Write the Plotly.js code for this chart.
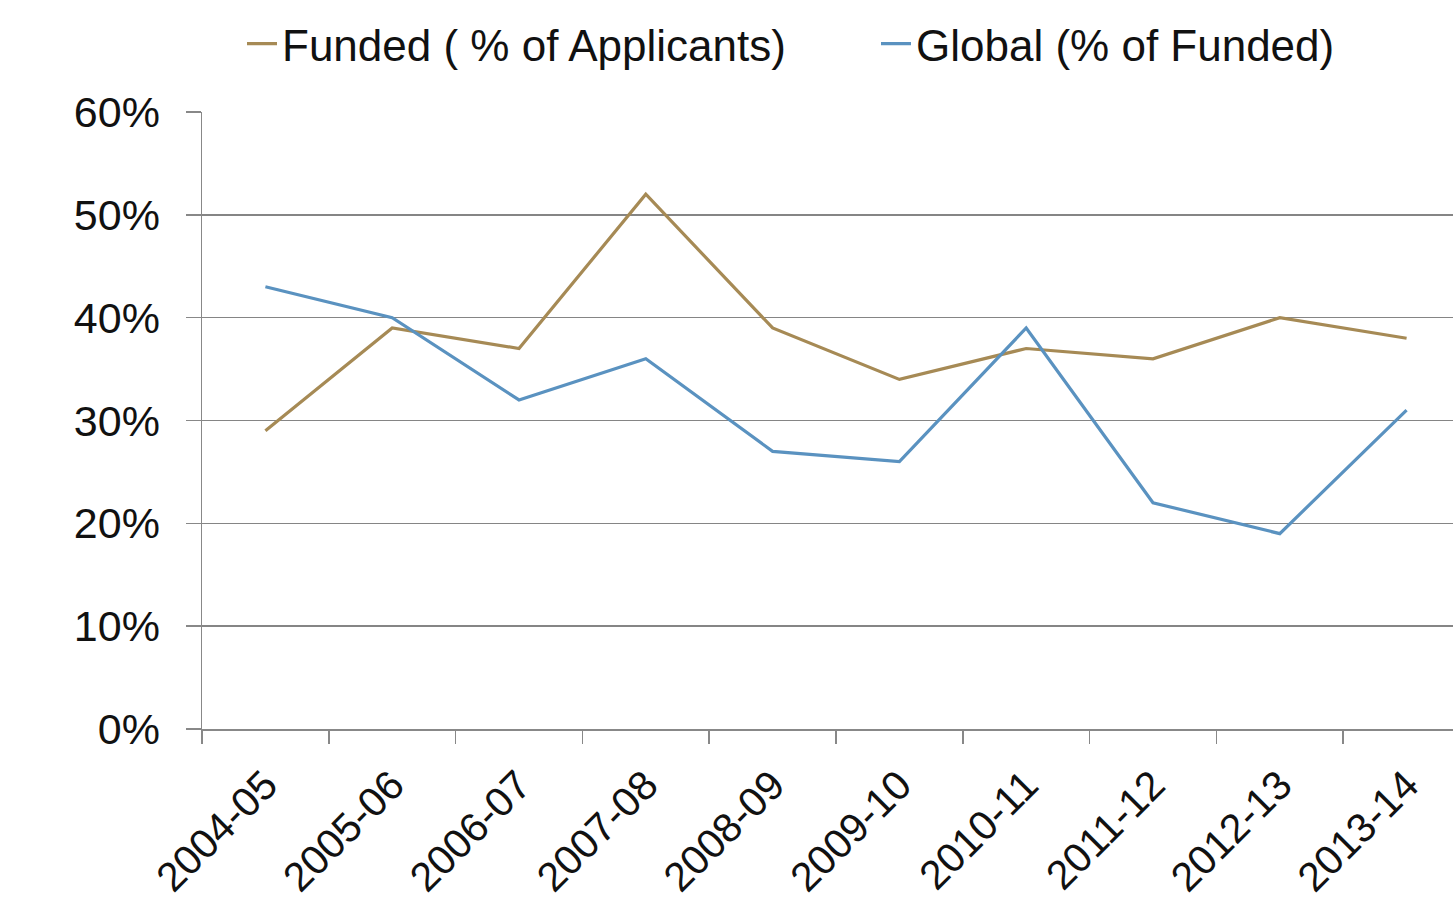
<!DOCTYPE html>
<html>
<head>
<meta charset="utf-8">
<script src="https://cdn.plot.ly/plotly-3.0.1.min.js"></script>
<style>html,body{margin:0;padding:0;background:#fff;overflow:hidden}#chart{width:1453px;height:901px}</style>
</head>
<body>
<div id="chart"></div>
<script>
const categories = ["2004-05","2005-06","2006-07","2007-08","2008-09","2009-10","2010-11","2011-12","2012-13","2013-14"];
const fundedPct = [29, 39, 37, 52, 39, 34, 37, 36, 40, 38];
const globalPct = [43, 40, 32, 36, 27, 26, 39, 22, 19, 31];
const seriesNames = ["Funded ( % of Applicants)", "Global (% of Funded)"];
const yTickVals = [0, 10, 20, 30, 40, 50, 60];
const yTickText = ["0%", "10%", "20%", "30%", "40%", "50%", "60%"];

const font = "Liberation Sans, Arial, sans-serif";
const W = 1453, H = 901;
const traces = [
  {x: categories, y: fundedPct, name: seriesNames[0], type: "scatter", mode: "lines",
   line: {color: "#A68A55", width: 3.2}, legend: "legend"},
  {x: categories, y: globalPct, name: seriesNames[1], type: "scatter", mode: "lines",
   line: {color: "#5A92C0", width: 3.2}, legend: "legend2"}
];
const legendBase = {orientation: "h", xref: "container", yref: "container",
  yanchor: "middle", xanchor: "left",
  font: {family: font, size: 44, color: "#111"}, bgcolor: "rgba(0,0,0,0)"};
const layout = {
  width: W, height: H,
  margin: {l: 202, r: 0, t: 112, b: 172, autoexpand: false},
  paper_bgcolor: "#fff", plot_bgcolor: "#fff",
  font: {family: font, color: "#111"},
  showlegend: true,
  legend: Object.assign({}, legendBase, {x: 242 / W, y: 1 - 44 / H}),
  legend2: Object.assign({}, legendBase, {x: 876 / W, y: 1 - 44 / H}),
  xaxis: {type: "category", range: [-0.5, 9.366], tickson: "boundaries",
    ticks: "outside", ticklen: 13, tickcolor: "#888", tickwidth: 1.5,
    tickangle: -45, tickfont: {family: font, size: 41, color: "#111"},
    ticklabelstandoff: 14,
    showgrid: false, showline: true, linecolor: "#888", linewidth: 1.5, fixedrange: true},
  yaxis: {range: [0, 60], tickvals: yTickVals, ticktext: yTickText,
    ticks: "outside", ticklen: 15, tickcolor: "#888", tickwidth: 1.5,
    tickfont: {family: font, size: 43, color: "#111"},
    ticklabelstandoff: 17,
    showgrid: true, gridcolor: "#858585", gridwidth: 1.6, zeroline: false,
    showline: true, linecolor: "#888", linewidth: 1.5, fixedrange: true}
};
Plotly.newPlot("chart", traces, layout, {displayModeBar: false, staticPlot: true});
</script>
</body>
</html>
